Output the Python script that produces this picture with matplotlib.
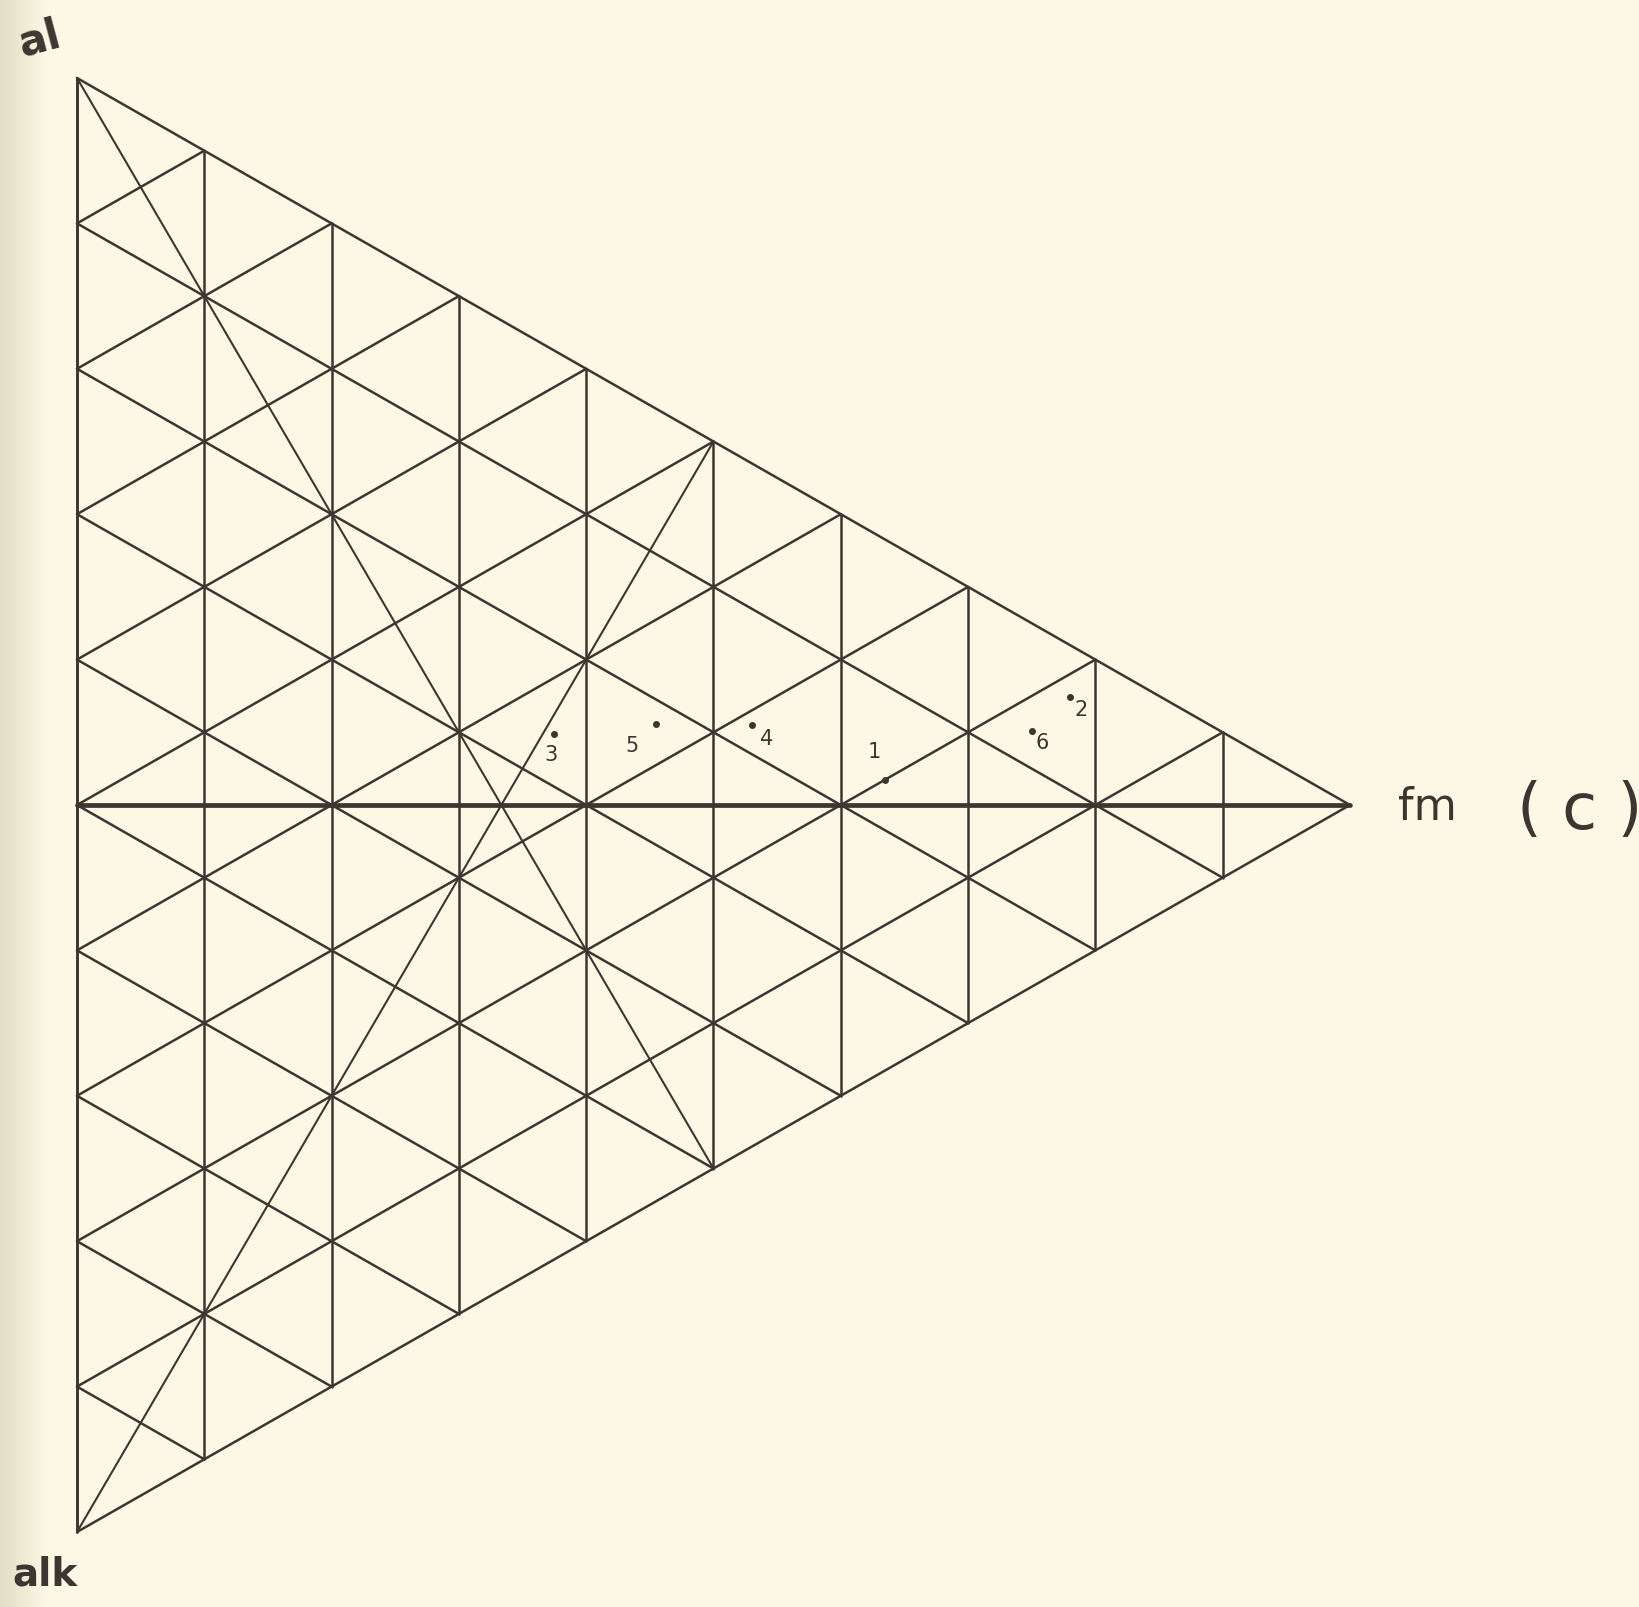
import numpy as np
import matplotlib.pyplot as plt

# Niggli values (fractions of al + fm + alk)
labels = ['1', '2', '3', '4', '5', '6']
al = [0.20, 0.184, 0.361, 0.29, 0.328, 0.176]
fm = [0.635, 0.78, 0.375, 0.53, 0.455, 0.75]
alk = [0.165, 0.036, 0.264, 0.18, 0.217, 0.074]
label_off = [(-11, 29), (11, -12), (-3, -20), (15, -13), (-24, -21), (10, -11)]

W = 0.8755  # triangle is drawn a bit wider than equilateral
ink = '#3b3631'
bg = '#fbf9e6'


def tern(a, f, k):
    a = np.asarray(a, float)
    f = np.asarray(f, float)
    return f * W, a + 0.5 * f


fig = plt.figure(figsize=(16.4, 16.08), dpi=100)
fig.patch.set_facecolor(bg)
ax = fig.add_axes([0, 0, 1, 1])
ax.set_facecolor(bg)
ax.set_xlim(-77 / 1454, 1563 / 1454)
ax.set_ylim(-75 / 1454, 1533 / 1454)
ax.axis('off')

# darker paper edge on the left
grad = np.linspace(0, 1, 60).reshape(1, -1)
ax.imshow(grad, extent=(-77 / 1454, -30 / 1454, -75 / 1454, 1533 / 1454),
          cmap=plt.matplotlib.colors.LinearSegmentedColormap.from_list('e', ['#e2dec4', bg]),
          aspect='auto', zorder=0)


def seg(p, q, lw=1.8):
    x0, y0 = tern(*p)
    x1, y1 = tern(*q)
    ax.plot([x0, x1], [y0, y1], color=ink, lw=lw, solid_capstyle='round', zorder=2)


# outline
seg((1, 0, 0), (0, 1, 0))
seg((0, 1, 0), (0, 0, 1))
seg((0, 0, 1), (1, 0, 0), lw=2.1)

# 10 % grid
for i in range(1, 10):
    v = i / 10
    seg((1 - v, v, 0), (0, v, 1 - v))
    seg((v, 1 - v, 0), (v, 0, 1 - v))
    seg((0, 1 - v, v), (1 - v, 0, v))

# medians
seg((1, 0, 0), (0, 0.5, 0.5), lw=1.5)
seg((0, 0, 1), (0.5, 0.5, 0), lw=1.5)
seg((0, 1, 0), (0.5, 0, 0.5), lw=3.4)

# sample points
px, py = tern(al, fm, alk)
ax.scatter(px, py, s=16, color=ink, zorder=3)
for i in range(len(labels)):
    ax.annotate(labels[i], (px[i], py[i]), xytext=label_off[i], textcoords='offset pixels',
                ha='center', va='center', fontsize=15, color=ink, family='DejaVu Sans')

# corner labels
ax.text(tern(1, 0, 0)[0] - 38 / 1454, tern(1, 0, 0)[1] + 40 / 1454, 'al',
        fontsize=30, color=ink, ha='center', va='center', rotation=15, fontweight='bold')
ax.text(tern(0, 0, 1)[0] - 32 / 1454, tern(0, 0, 1)[1] - 42 / 1454, 'alk',
        fontsize=28, color=ink, ha='center', va='center', fontweight='bold')
ax.text(tern(0, 1, 0)[0] + 77 / 1454, tern(0, 1, 0)[1] - 2 / 1454, 'fm',
        fontsize=32, color=ink, ha='center', va='center')
ax.text(tern(0, 1, 0)[0] + 230 / 1454, tern(0, 1, 0)[1] - 5 / 1454, '( c )',
        fontsize=46, color=ink, ha='center', va='center')

fig.savefig('out.png', dpi=100, facecolor=bg)
